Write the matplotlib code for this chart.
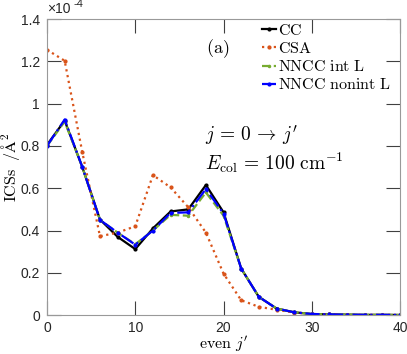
import matplotlib
matplotlib.use("Agg")
import matplotlib.pyplot as plt

plt.rcParams['mathtext.fontset'] = 'cm'
plt.rcParams['font.family'] = ['Liberation Sans', 'DejaVu Sans']

# ICS values in units of 1e-4 A^2, even j' from 0 to 40
j_final = list(range(0, 42, 2))
cc = [0.805, 0.92, 0.70, 0.452, 0.37, 0.312, 0.41, 0.49, 0.50, 0.615, 0.486,
      0.22, 0.086, 0.031, 0.013, 0.005, 0.003, 0.002, 0.001, 0.001, 0.0005]
csa = [1.255, 1.203, 0.77, 0.373, 0.39, 0.42, 0.662, 0.604, 0.51, 0.39, 0.196,
       0.07, 0.039, 0.025, 0.012, 0.005, 0.003, 0.002, 0.001, 0.001, 0.0005]
nncc_int = [0.80, 0.915, 0.70, 0.45, 0.39, 0.335, 0.40, 0.474, 0.47, 0.58, 0.47,
            0.22, 0.086, 0.031, 0.013, 0.005, 0.003, 0.002, 0.001, 0.001, 0.0005]
nncc_nonint = [0.80, 0.925, 0.70, 0.45, 0.39, 0.333, 0.40, 0.483, 0.486, 0.596, 0.48,
               0.22, 0.086, 0.031, 0.013, 0.005, 0.003, 0.002, 0.001, 0.001, 0.0005]

yticks = [0, 0.2, 0.4, 0.6, 0.8, 1.0, 1.2, 1.4]
ytick_labels = ['0', '0.2', '0.4', '0.6', '0.8', '1', '1.2', '1.4']
xticks = [0, 10, 20, 30, 40]

fig = plt.figure(figsize=(4.07, 3.54), dpi=100)
ax = fig.add_axes([0.1155, 0.110, 0.8675, 0.836])

orange = (0.85, 0.325, 0.098)
green = (0.466, 0.674, 0.188)

ax.plot(j_final, cc, '-', color='black', lw=1.6, marker='.', ms=4, label=r'$\mathrm{CC}$')
ax.plot(j_final, csa, ':', color=orange, lw=1.6, marker='.', ms=4, label=r'$\mathrm{CSA}$')
ax.plot(j_final, nncc_int, '--', color=green, lw=1.6, marker='.', ms=3, label=r'$\mathrm{NNCC\ int\ L}$')
ax.plot(j_final, nncc_nonint, '-.', color='blue', lw=1.6, marker='.', ms=4, label=r'$\mathrm{NNCC\ nonint\ L}$')

ax.set_xlim(0, 40)
ax.set_ylim(0, 1.4)
ax.set_xticks(xticks)
ax.set_yticks(yticks)
ax.set_yticklabels(ytick_labels)
ax.tick_params(direction='in', length=10, width=0.8, color='#404040',
               top=True, right=True, labelsize=10, labelcolor='#262626', pad=5)
ax.tick_params(axis='x', pad=4)
for s in ax.spines.values():
    s.set_color('#999999')
    s.set_linewidth(0.8)

ax.set_xlabel(r"$\mathrm{even}\ j'$", fontsize=11.5)
ax.xaxis.set_label_coords(0.5, -0.063)
ax.set_ylabel(r'$\mathrm{ICSs}\ \ /\mathrm{\AA}^2$', fontsize=11.5)
ax.yaxis.set_label_coords(-0.07, 0.5)
ax.text(0.0, 1.01, '×10', transform=ax.transAxes, fontsize=10,
        ha='left', va='bottom', color='#262626')
ax.text(0.075, 1.035, '-4', transform=ax.transAxes, fontsize=8,
        ha='left', va='bottom', color='#262626')

ax.text(19.3, 1.26, r'$\mathrm{(a)}$', fontsize=13, ha='center', va='center')
ax.text(17.9, 0.825, r"$j\, =\, 0\, \rightarrow\, j'$", fontsize=14, ha='left', va='baseline')
ax.text(17.9, 0.69, r'$E_{\mathrm{col}}\, =\, 100\ \mathrm{cm}^{-1}$', fontsize=14, ha='left', va='baseline')

ax.legend(loc='upper right', frameon=False, fontsize=11.5, handlelength=0.9,
          handletextpad=0.1, labelspacing=0.2, borderaxespad=0.2,
          bbox_to_anchor=(1.0, 1.02))

fig.savefig('out.png', dpi=100)
